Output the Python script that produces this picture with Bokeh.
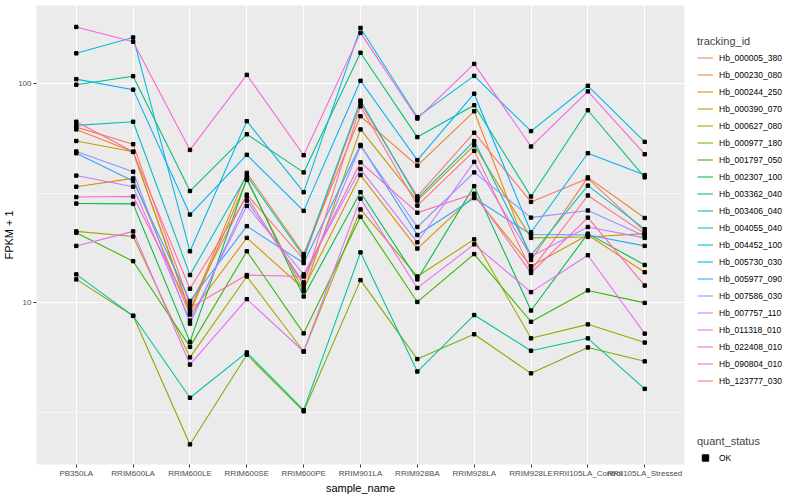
from bokeh.plotting import figure
from bokeh.layouts import row
from bokeh.models import (Range1d, FactorRange, FixedTicker, PrintfTickFormatter,
                          Legend, LegendItem, ColumnDataSource)
from bokeh.embed import file_html
from bokeh.resources import INLINE

samples = ["PB350LA", "RRIM600LA", "RRIM600LE", "RRIM600SE", "RRIM600PE", "RRIM901LA",
           "RRIM928BA", "RRIM928LA", "RRIM928LE", "RRII105LA_Control", "RRII105LA_Stressed"]

tracking_ids = ["Hb_000005_380", "Hb_000230_080", "Hb_000244_250", "Hb_000390_070",
                "Hb_000627_080", "Hb_000977_180", "Hb_001797_050", "Hb_002307_100",
                "Hb_003362_040", "Hb_003406_040", "Hb_004055_040", "Hb_004452_100",
                "Hb_005730_030", "Hb_005977_090", "Hb_007586_030", "Hb_007757_110",
                "Hb_011318_010", "Hb_022408_010", "Hb_090804_010", "Hb_123777_030"]

colors = ["#F8766D", "#EA8331", "#D89000", "#C09B00", "#A3A500", "#7CAE00", "#39B600",
          "#00BB4E", "#00BF7D", "#00C1A3", "#00BFC4", "#00BAE0", "#00B0F6", "#35A2FF",
          "#9590FF", "#C77CFF", "#E76BF3", "#FA62DB", "#FF62BC", "#FF6C91"]

# FPKM + 1 per sample
hb_000005_380 = [63.4, 53.0, 9.82, 31.2, 15.8, 81.8, 30.6, 59.8, 28.9, 37.0, 21.2]
hb_000230_080 = [61.9, 48.9, 9.20, 39.2, 16.7, 71.1, 42.3, 74.9, 15.7, 37.4, 24.4]
hb_000244_250 = [33.9, 37.0, 8.85, 19.8, 11.6, 38.3, 17.7, 30.9, 14.7, 20.4, 13.8]
hb_000390_070 = [54.8, 48.9, 9.01, 36.4, 11.3, 61.9, 29.3, 52.4, 19.8, 20.0, 20.7]
hb_000627_080 = [21.2, 20.1, 5.64, 13.2, 6.00, 26.7, 13.2, 19.5, 6.89, 7.98, 6.59]
hb_000977_180 = [12.8, 8.73, 2.26, 5.80, 3.20, 12.7, 5.54, 7.19, 4.77, 6.26, 5.41]
hb_001797_050 = [20.9, 15.5, 6.30, 17.2, 7.26, 24.7, 10.1, 16.7, 8.20, 11.4, 10.0]
hb_002307_100 = [28.4, 28.3, 6.64, 37.0, 10.7, 32.0, 12.8, 34.1, 9.23, 20.7, 14.9]
hb_003362_040 = [99.0, 108.3, 32.4, 58.8, 39.4, 138.5, 57.1, 79.8, 30.6, 75.7, 37.4]
hb_003406_040 = [13.5, 8.73, 3.69, 5.94, 3.24, 17.0, 4.86, 8.80, 6.05, 6.89, 4.05]
hb_004055_040 = [64.6, 67.1, 13.4, 38.1, 16.3, 83.8, 29.9, 54.8, 16.5, 34.3, 21.7]
hb_004452_100 = [137.7, 162.7, 17.2, 67.5, 32.0, 179.8, 70.4, 108.7, 60.8, 97.9, 54.3]
hb_005730_030 = [105.0, 94.0, 25.3, 47.4, 26.3, 103.2, 44.8, 90.1, 21.0, 48.2, 38.3]
hb_005977_090 = [48.2, 36.0, 10.2, 22.4, 15.2, 52.6, 20.4, 30.1, 20.5, 20.4, 18.2]
hb_007586_030 = [49.1, 39.7, 8.04, 29.3, 12.4, 52.0, 22.2, 39.4, 24.5, 26.4, 20.2]
hb_007757_110 = [38.1, 33.9, 8.30, 27.7, 13.5, 40.8, 18.9, 44.0, 16.3, 22.2, 19.8]
hb_011318_010 = [18.2, 21.2, 5.23, 10.4, 6.00, 29.9, 11.7, 18.5, 11.2, 16.5, 7.24]
hb_022408_010 = [181.7, 155.4, 49.9, 109.8, 47.2, 170.7, 69.4, 123.2, 51.7, 92.3, 47.7]
hb_090804_010 = [30.4, 30.6, 9.49, 13.4, 13.2, 43.8, 25.8, 31.5, 13.7, 24.5, 12.0]
hb_123777_030 = [67.1, 48.9, 11.6, 30.6, 12.1, 78.9, 27.8, 49.4, 14.1, 30.9, 20.7]

series = [hb_000005_380, hb_000230_080, hb_000244_250, hb_000390_070, hb_000627_080,
          hb_000977_180, hb_001797_050, hb_002307_100, hb_003362_040, hb_003406_040,
          hb_004055_040, hb_004452_100, hb_005730_030, hb_005977_090, hb_007586_030,
          hb_007757_110, hb_011318_010, hb_022408_010, hb_090804_010, hb_123777_030]

quant_status = "OK"
y_ticks = [10, 100]
y_minor = [3.1623, 31.623]

FONT = "Liberation Sans"

p = figure(width=696, height=496,
           x_range=FactorRange(factors=samples, range_padding=0.2, range_padding_units="absolute"),
           y_range=Range1d(1.83, 227.6), y_axis_type="log",
           output_backend="svg", toolbar_location=None,
           min_border_left=32, min_border_right=12, min_border_top=5, min_border_bottom=0,
           x_axis_label="sample_name", y_axis_label="FPKM + 1")

p.background_fill_color = "#EBEBEB"
p.border_fill_color = "white"
p.outline_line_color = None

tk = FixedTicker(ticks=y_ticks, minor_ticks=y_minor)
p.yaxis.ticker = tk
p.ygrid.ticker = tk
p.yaxis.formatter = PrintfTickFormatter(format="%d")

for g in (p.xgrid, p.ygrid):
    g.grid_line_color = "white"
    g.grid_line_width = 1.07
p.ygrid.minor_grid_line_color = "white"
p.ygrid.minor_grid_line_width = 0.55

for ax in (p.xaxis, p.yaxis):
    ax.axis_line_color = None
    ax.major_tick_line_color = "#333333"
    ax.major_tick_out = 3
    ax.major_tick_in = 0
    ax.minor_tick_line_color = None
    ax.major_label_text_color = "#4D4D4D"
    ax.major_label_text_font = FONT
    ax.major_label_text_font_size = "8px"
    ax.major_label_text_line_height = 1.0
    ax.major_label_standoff = 1
    ax.axis_label_text_font = FONT
    ax.axis_label_text_font_size = "11px"
    ax.axis_label_text_line_height = 1.0
    ax.axis_label_text_font_style = "normal"
    ax.axis_label_text_color = "black"
    ax.axis_label_standoff = 1
p.yaxis.axis_label_standoff = 0

for col, vals in zip(colors, series):
    p.line(x=samples, y=vals, line_color=col, line_width=1.07)

px, py = [], []
for vals in series:
    px.extend(samples)
    py.extend(vals)
p.scatter(x="x", y="y", source=ColumnDataSource(dict(x=px, y=py)),
          marker="square", size=3.4, color="black")

# legend panel (separate canvas so that the legends are not clipped)
lg = figure(width=102, height=496, x_range=Range1d(0, 1), y_range=Range1d(0, 1),
            output_backend="svg", toolbar_location=None,
            x_axis_location=None, y_axis_location=None,
            min_border_left=0, min_border_right=0, min_border_top=0, min_border_bottom=0)
lg.grid.visible = False
lg.outline_line_color = None
lg.background_fill_color = "white"
lg.border_fill_color = "white"

# legend key renderers: placed outside the visible range, only their glyph styles are used
items = []
for tid, col in zip(tracking_ids, colors):
    r = lg.line(x=[5, 6], y=[5, 6], line_color=col, line_width=1.07)
    items.append(LegendItem(label=tid, renderers=[r]))
ok_r = lg.scatter(x=[5], y=[5], marker="square", size=3.4, color="black")


def style_legend(leg):
    leg.background_fill_alpha = 0
    leg.border_line_color = None
    leg.padding = 0
    leg.margin = 0
    leg.spacing = 0
    leg.glyph_width = 16
    leg.glyph_height = 17
    leg.label_height = 17
    leg.label_standoff = 6
    leg.label_text_font = FONT
    leg.label_text_font_size = "8.5px"
    leg.label_text_color = "black"
    leg.title_text_font = FONT
    leg.title_text_font_size = "11px"
    leg.title_text_font_style = "normal"
    leg.title_standoff = 2


# location = bottom-left corner of the legend, in px from the frame's bottom-left
leg1 = Legend(items=items, title="tracking_id", location=(1, 75))
style_legend(leg1)
lg.add_layout(leg1)

leg2 = Legend(items=[LegendItem(label=quant_status, renderers=[ok_r])],
              title="quant_status", location=(1, -2))
style_legend(leg2)
lg.add_layout(leg2)

layout = row(p, lg, spacing=0)
open("out.html", "w").write(file_html(layout, INLINE))
